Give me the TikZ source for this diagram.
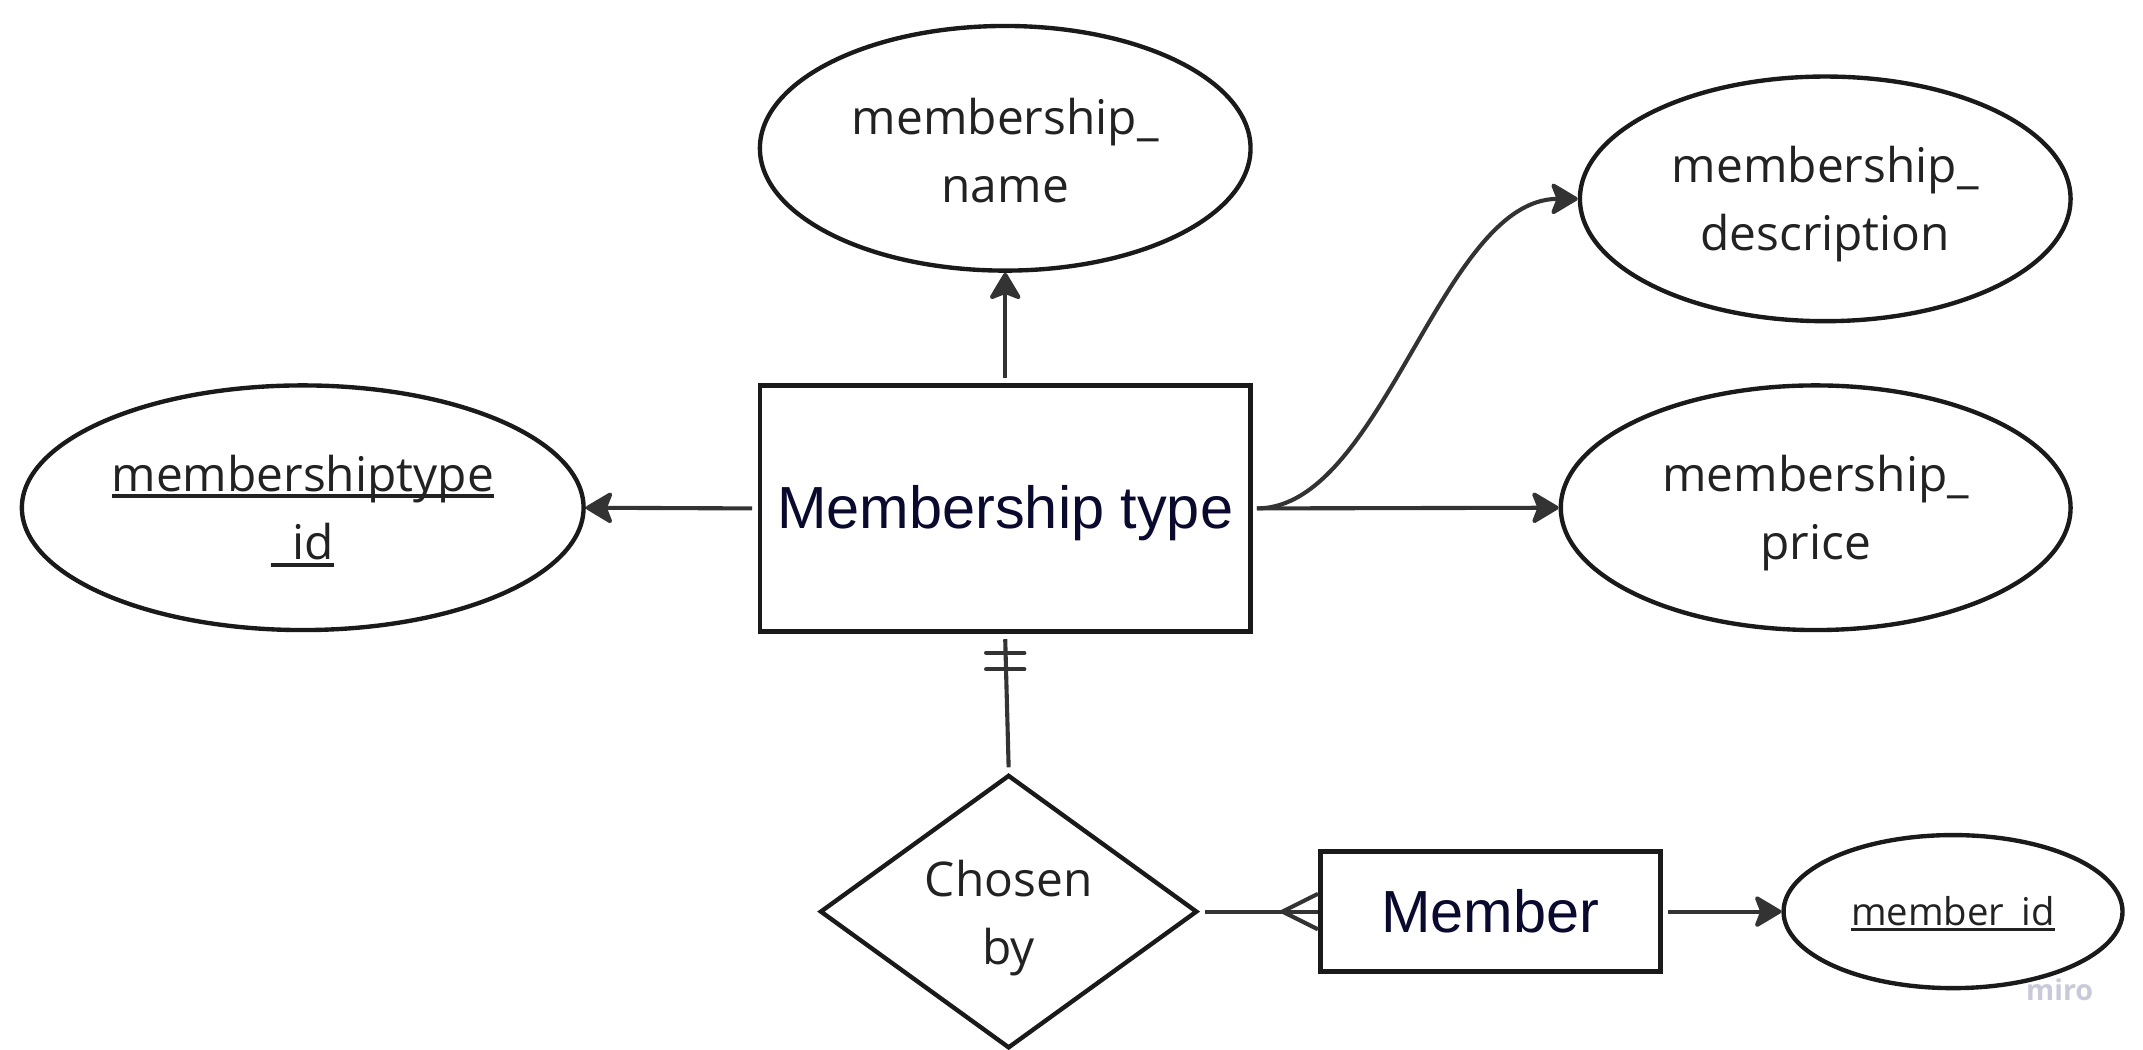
\documentclass[tikz,border=0pt]{standalone}
\usepackage{fontspec}
\setmainfont{Open Sans}
\newfontfamily\arialf{Liberation Sans}
\usetikzlibrary{shapes.geometric,arrows.meta}
\definecolor{shapeline}{HTML}{1A1A1A}
\definecolor{connline}{HTML}{333333}
\definecolor{entitytext}{HTML}{0A0A2E}
\definecolor{attrtext}{HTML}{222222}
\definecolor{wmark}{HTML}{C9C9DA}
\newcommand\keyul[1]{\setbox0\hbox{#1}\rlap{\rule[-0.15em]{\wd0}{0.08em}}\box0}
\newcommand\tstrut[1]{\rule{0pt}{#1}}
\begin{document}
\begin{tikzpicture}[x=1pt,y=-1pt,
 attr/.style={ellipse,draw=shapeline,line width=3.2pt,inner sep=0pt,text=attrtext,align=center,font=\fontsize{35}{50}\selectfont},
 entity/.style={rectangle,draw=shapeline,line width=3.4pt,inner sep=0pt,text=entitytext,font=\arialf\fontsize{43.5}{50}\selectfont},
 rel/.style={diamond,draw=shapeline,line width=3.2pt,inner sep=0pt,aspect=1.38,text=attrtext,align=center,font=\fontsize{35}{50}\selectfont},
 conn/.style={draw=connline,line width=3pt},
 arr/.style={conn,-{Stealth[length=22pt,width=26pt,inset=5pt,round]}},
 bar/.style={conn,line cap=round}]
\useasboundingbox (0,0) rectangle (1568,768);

\node[entity,minimum width=359pt,minimum height=180pt] (mt) at (735.5,372) {\tstrut{38pt}Membership type};
\node[attr,minimum width=359pt,minimum height=179pt] (nm) at (735.5,108.5) {\tstrut{30pt}membership\_\\name};
\node[attr,minimum width=359pt,minimum height=179pt] (desc) at (1335.5,145.5) {\tstrut{34pt}membership\_\\description};
\node[attr,minimum width=373pt,minimum height=179pt] (pr) at (1328.5,371.5) {\tstrut{34pt}membership\_\\price};
\node[attr,minimum width=411pt,minimum height=179pt] (mid) at (221.5,371.5) {\tstrut{31pt}\keyul{membershiptype}\\\keyul{\_id}};
\node[rel,minimum width=276pt,minimum height=200pt] (cb) at (738,667) {\tstrut{36pt}Chosen\\by};
\node[entity,minimum width=249pt,minimum height=88pt] (mb) at (1090.5,667) {Member};
\node[attr,minimum width=248pt,minimum height=112pt,font=\fontsize{28}{30}\selectfont] (mid2) at (1429,667) {\tstrut{24pt}\keyul{member\_id}};
\node[text=wmark,font=\fontsize{21}{21}\selectfont\bfseries,inner sep=0pt] (wm) at (1507,724) {miro};

\draw[arr] ([yshift=4pt]mt.north) -- (nm.south);
\draw[arr] ([xshift=-4pt]mt.west) -- (mid.east);
\draw[arr] ([xshift=3pt]mt.east) -- (pr.west);
\coordinate (cs) at ([xshift=3pt]mt.east);
\coordinate (c1) at ([xshift=95pt]mt.east);
\coordinate (c2) at ([xshift=-100pt]desc.west);
\draw[arr] (cs) .. controls (c1) and (c2) .. (desc.west);

\draw[conn] ([yshift=-4pt]mt.south) -- ([yshift=4pt]cb.north);
\draw[bar] ([xshift=-14pt,yshift=-14pt]mt.south) -- ([xshift=14pt,yshift=-14pt]mt.south);
\draw[bar] ([xshift=-14pt,yshift=-26pt]mt.south) -- ([xshift=14pt,yshift=-26pt]mt.south);

\draw[conn] ([xshift=4pt]cb.east) -- (mb.west);
\draw[conn] ([yshift=13pt]mb.west) -- ([xshift=-26pt]mb.west) -- ([yshift=-13pt]mb.west);

\draw[arr] ([xshift=4pt]mb.east) -- (mid2.west);
\end{tikzpicture}
\end{document}
